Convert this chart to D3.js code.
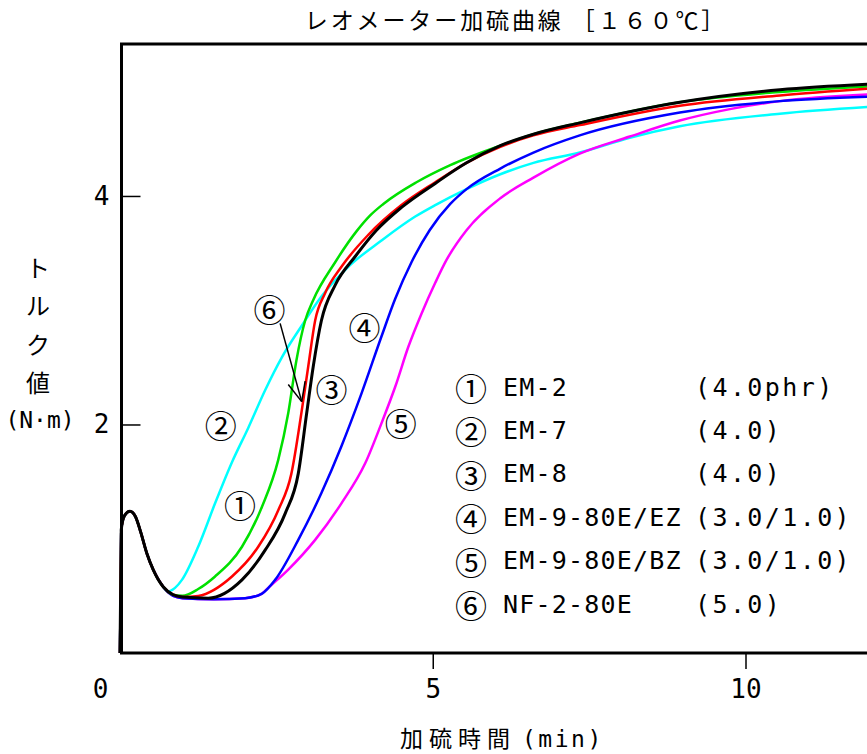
<!DOCTYPE html>
<html>
<head>
<meta charset="utf-8">
<script src="https://cdn.jsdelivr.net/npm/d3@7"></script>
<style>
  body { margin: 0; background: #fff; }
  text { fill: #000; }
</style>
</head>
<body>
<div id="chart"></div>
<script>
// --- data (time in min, torque in N·m) ---
var xTicks = [0, 5, 10];
var yTicks = [2, 4];

// shared induction part (all curves overlap here)
var comun = [[0.0,0],[0.02,1.08],[0.07,1.2],[0.16,1.24],[0.25,1.19],[0.33,1.06],
             [0.43,0.87],[0.53,0.73],[0.69,0.58]];

var em2  = [[0.85,0.51],[1.0,0.5],[1.25,0.56],[1.52,0.67],[1.95,0.93],[2.27,1.28],[2.53,1.69],
            [2.69,2.1],[2.82,2.56],[2.96,2.91],[3.09,3.09],[3.44,3.42],[3.78,3.69],[4.0,3.83],[4.21,3.93],
            [4.74,4.12],[5.28,4.27],[6.08,4.44],[6.61,4.54],[7.35,4.64],[8.95,4.82],[10.55,4.91],[12,4.96]];
var em7  = [[0.77,0.54],[0.88,0.57],[0.99,0.64],[1.25,0.93],[1.52,1.31],[1.79,1.67],[2.05,1.97],
            [2.32,2.3],[2.59,2.59],[2.9,2.86],[3.22,3.12],[3.65,3.38],[4.18,3.61],[4.72,3.82],
            [5.04,3.92],[5.54,4.06],[6.08,4.19],[6.61,4.29],[7.35,4.38],[8.15,4.51],[8.95,4.61],
            [10.55,4.72],[12,4.78]];
var em8  = [[0.85,0.51],[1.0,0.49],[1.41,0.48],[1.95,0.64],[2.32,0.9],[2.64,1.22],[2.85,1.57],
            [2.985,2.1],[3.09,2.51],[3.22,2.91],[3.44,3.22],[3.76,3.47],[4.1,3.7],[4.5,3.9],
            [5.04,4.11],[5.54,4.29],[6.08,4.44],[6.61,4.54],[7.35,4.64],[8.95,4.82],[10.55,4.93],[12,4.98]];
var em9ez = [[0.85,0.5],[1.0,0.48],[1.5,0.47],[2.0,0.48],[2.27,0.52],[2.48,0.64],[2.85,0.99],
            [3.22,1.4],[3.54,1.81],[3.86,2.27],[4.18,2.77],[4.4,3.1],[4.66,3.42],[4.95,3.7],
            [5.28,3.93],[5.54,4.06],[6.08,4.24],[6.61,4.38],[7.35,4.53],[8.95,4.73],[10.55,4.83],[12,4.87]];
var em9bz = [[0.85,0.5],[1.0,0.48],[1.5,0.47],[2.0,0.48],[2.27,0.52],[2.37,0.57],[2.69,0.73],
            [3.12,0.99],[3.54,1.31],[3.92,1.66],[4.18,2.01],[4.4,2.33],[4.61,2.68],[4.82,2.97],
            [5.04,3.24],[5.22,3.44],[5.54,3.7],[6.08,3.98],[6.61,4.16],[7.35,4.37],[8.15,4.52],
            [8.95,4.66],[9.75,4.76],[10.55,4.83],[12,4.89]];
var nf2  = [[0.85,0.51],[1.0,0.49],[1.25,0.5],[1.79,0.67],[2.21,0.93],[2.53,1.25],[2.74,1.57],
            [2.9,2.1],[3.01,2.51],[3.12,2.91],[3.28,3.15],[3.54,3.38],[3.97,3.66],[4.5,3.92],
            [5.04,4.12],[5.54,4.29],[6.08,4.43],[6.61,4.53],[7.35,4.62],[8.95,4.79],[10.55,4.88],[12,4.94]];

var marcas   = ["①","②","③","④","⑤","⑥"];
var nombres  = ["EM-2","EM-7","EM-8","EM-9-80E/EZ","EM-9-80E/BZ","NF-2-80E"];
var dosis    = ["(4.0phr)","(4.0)","(4.0)","(3.0/1.0)","(3.0/1.0)","(5.0)"];
var colores  = ["#00e000","#00ffff","#000000","#0000ff","#ff00ff","#ff0000"];
var curvas   = [em2, em7, em8, em9ez, em9bz, nf2];
// where the circled numbers sit on the plot (data units)
var etiquetas = [[1.92,1.3],[1.61,2.0],[3.38,2.32],[3.91,2.86],[4.49,2.02],[2.39,3.02]];

// --- layout ---
ancho = 867;
alto = 754;
izq = 120;
arriba = 44;
abajo = 653;

var svg = d3.select("#chart")
    .append("svg")
    .attr("width", ancho)
    .attr("height", alto);

var escalaX = d3.scaleLinear().domain([0, 12]).range([izq, izq + 62.55 * 12]);
var escalaY = d3.scaleLinear().domain([0, 5.33]).range([abajo, arriba]);

var linea = d3.line()
    .x(function(d){ return escalaX(d[0]); })
    .y(function(d){ return escalaY(d[1]); })
    .curve(d3.curveMonotoneX);

// draw order: cyan, magenta, blue, green, red, black on top
var orden = [1, 4, 3, 0, 5, 2];
orden.forEach(function(i){
    svg.append("path")
        .attr("d", linea(comun.concat(curvas[i])))
        .attr("fill", "none")
        .attr("stroke", colores[i])
        .attr("stroke-width", i == 2 ? 3 : 2.5)
        .attr("stroke-linejoin", "round");
});

// frame
svg.append("rect")
    .attr("x", izq + 1.5)
    .attr("y", arriba)
    .attr("width", 800)
    .attr("height", abajo - arriba)
    .attr("fill", "none")
    .attr("stroke", "#000")
    .attr("stroke-width", 3);

// y axis (ticks inside)
var ejeY = svg.append("g")
    .attr("transform", "translate(" + (izq + 1.5) + ",0)")
    .call(d3.axisLeft(escalaY).tickValues(yTicks).tickSize(-19).tickPadding(12).tickFormat(d3.format("d")));
ejeY.select(".domain").remove();
ejeY.selectAll("line").attr("stroke-width", 1.5);
ejeY.selectAll("text")
    .attr("font-family", "DejaVu Sans Mono")
    .attr("font-size", "26px")
    .attr("fill", "#000");

// x axis
var ejeX = svg.append("g")
    .attr("transform", "translate(0," + abajo + ")")
    .call(d3.axisBottom(escalaX).tickValues(xTicks).tickSize(16).tickPadding(11).tickFormat(d3.format("d")));
ejeX.select(".domain").remove();
ejeX.selectAll("line").attr("stroke-width", 1.5);
ejeX.selectAll(".tick").filter(function(d){ return d === 0; })
    .select("line").remove();
ejeX.selectAll(".tick").filter(function(d){ return d === 0; })
    .select("text").attr("x", -20);
ejeX.selectAll("text")
    .attr("font-family", "DejaVu Sans Mono")
    .attr("font-size", "26px")
    .attr("fill", "#000");

// circled numbers on the curves
svg.selectAll("text.marca")
    .data(etiquetas)
    .enter()
    .append("text")
    .attr("class", "marca")
    .text(function(d, i){ return marcas[i]; })
    .attr("x", function(d){ return escalaX(d[0]); })
    .attr("y", function(d){ return escalaY(d[1]); })
    .attr("text-anchor", "middle")
    .attr("dominant-baseline", "central")
    .attr("font-family", "Noto Sans CJK JP")
    .attr("font-size", "32px");

// arrow from 6 to the red curve
var punta = [2.905, 2.2];
svg.append("line")
    .attr("x1", escalaX(2.56)).attr("y1", escalaY(2.885))
    .attr("x2", escalaX(punta[0])).attr("y2", escalaY(punta[1]))
    .attr("stroke", "#000").attr("stroke-width", 1.5);
[[2.69, 2.35], [2.96, 2.38]].forEach(function(a){
    svg.append("line")
        .attr("x1", escalaX(a[0])).attr("y1", escalaY(a[1]))
        .attr("x2", escalaX(punta[0])).attr("y2", escalaY(punta[1]))
        .attr("stroke", "#000").attr("stroke-width", 1.5);
});

// legend
var leyenda = svg.append("g");
marcas.forEach(function(m, i){
    var yy = 387 + i * 43.4;
    leyenda.append("text")
        .text(m)
        .attr("x", 471).attr("y", yy)
        .attr("text-anchor", "middle")
        .attr("dominant-baseline", "central")
        .attr("font-family", "Noto Sans CJK JP")
        .attr("font-size", "32px");
    leyenda.append("text")
        .text(nombres[i])
        .attr("x", 503).attr("y", yy)
        .attr("dominant-baseline", "central")
        .attr("font-family", "DejaVu Sans Mono")
        .attr("font-size", "25px")
        .attr("letter-spacing", "1.2px");
    leyenda.append("text")
        .text(dosis[i])
        .attr("x", 695).attr("y", yy)
        .attr("dominant-baseline", "central")
        .attr("font-family", "DejaVu Sans Mono")
        .attr("font-size", "25px")
        .attr("letter-spacing", "2.4px");
});

// title
svg.append("text")
    .text("レオメーター加硫曲線 ［１６０℃］")
    .attr("x", 516).attr("y", 29)
    .attr("text-anchor", "middle")
    .attr("font-family", "Noto Sans CJK JP")
    .attr("font-size", "23px")
    .attr("letter-spacing", "2.9px");

// y label (stacked)
["ト","ル","ク","値"].forEach(function(c, i){
    svg.append("text")
        .text(c)
        .attr("x", 38).attr("y", 266 + i * 38.5)
        .attr("text-anchor", "middle")
        .attr("dominant-baseline", "central")
        .attr("font-family", "Noto Sans CJK JP")
        .attr("font-size", "24px");
});
svg.append("text")
    .text("(N·m)")
    .attr("x", 40).attr("y", 420)
    .attr("text-anchor", "middle")
    .attr("dominant-baseline", "central")
    .attr("font-family", "DejaVu Sans Mono")
    .attr("font-size", "23px");

// x label
var tx = svg.append("text")
    .attr("x", 400).attr("y", 747);
tx.append("tspan")
    .text("加硫時間")
    .attr("font-family", "Noto Sans CJK JP")
    .attr("font-size", "23px")
    .attr("letter-spacing", "6px");
tx.append("tspan")
    .text("(min)")
    .attr("dx", 6)
    .attr("font-family", "DejaVu Sans Mono")
    .attr("font-size", "23px")
    .attr("letter-spacing", "2.5px");
</script>
</body>
</html>
